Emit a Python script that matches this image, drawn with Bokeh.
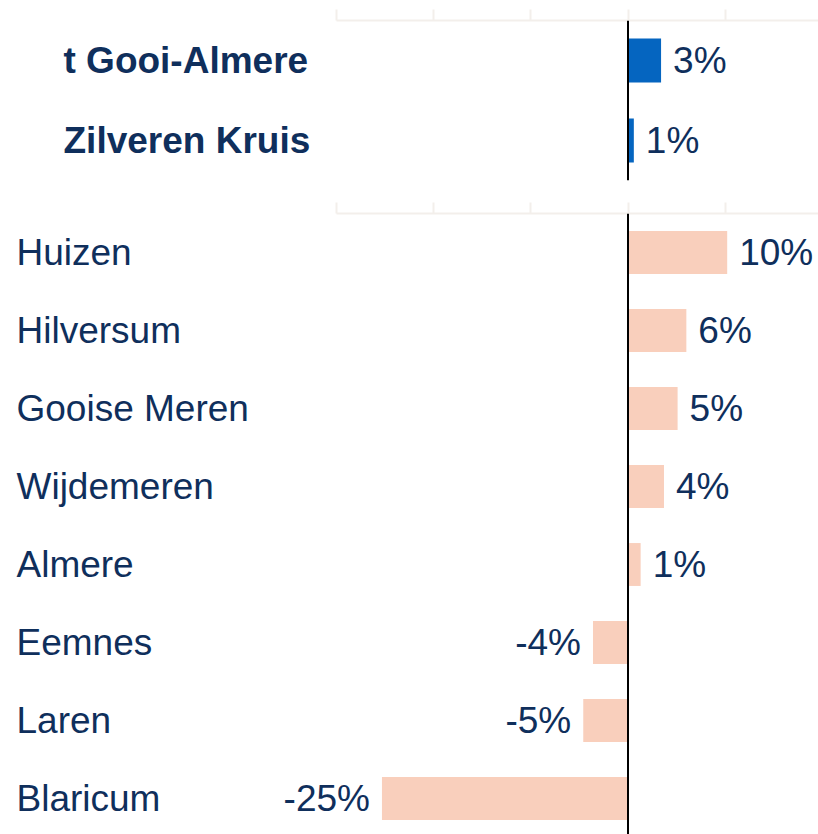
from bokeh.plotting import figure
from bokeh.models import ColumnDataSource, Range1d, Span, FixedTicker
from bokeh.layouts import column
from bokeh.embed import file_html
from bokeh.resources import INLINE
from bokeh.core.properties import value

# ---------------- data ----------------
insurer_names = ["t Gooi-Almere", "Zilveren Kruis"]
insurer_values = [3.4, 0.6]

municipality_names = ["Huizen", "Hilversum", "Gooise Meren", "Wijdemeren",
                      "Almere", "Eemnes", "Laren", "Blaricum"]
municipality_values = [10.2, 6.0, 5.1, 3.7, 1.3, -3.6, -4.6, -25.3]

axis_ticks = [-30, -20, -10, 0, 10, 20]

# ---------------- layout constants ----------------
WIDTH = 818
PX_PER_UNIT = 9.725
ZERO_PX = 627.5                      # zero position from frame left
X_START = -ZERO_PX / PX_PER_UNIT
X_END = X_START + WIDTH / PX_PER_UNIT

NAVY = "#0f2f5c"
FONT = "Liberation Sans"
FONT_SIZE = "37px"
AXIS_COLOR = "#f3efeb"


def make_panel(names, vals, bar_color, row_px, frame_h, height, border_top,
               border_bottom, bold, name_offset):
    top = -0.5
    bottom = top + frame_h / row_px
    p = figure(width=WIDTH, height=height,
               x_range=Range1d(X_START, X_END),
               y_range=Range1d(bottom, top),
               output_backend="svg", toolbar_location=None,
               x_axis_location="above", y_axis_location=None,
               min_border_left=0, min_border_right=0,
               min_border_top=border_top, min_border_bottom=border_bottom,
               outline_line_color=None,
               background_fill_color="white", border_fill_color="white")
    p.grid.visible = False

    ax = p.xaxis[0]
    ax.ticker = FixedTicker(ticks=axis_ticks)
    ax.bounds = (axis_ticks[0], X_END)
    ax.axis_line_color = AXIS_COLOR
    ax.axis_line_width = 2
    ax.major_tick_line_color = AXIS_COLOR
    ax.major_tick_line_width = 2
    ax.major_tick_out = 11
    ax.major_tick_in = 0
    ax.minor_tick_line_color = None
    ax.major_label_text_font_size = "1px"
    ax.major_label_text_color = None
    ax.major_label_standoff = 0

    src = ColumnDataSource(dict(
        y=list(range(len(names))),
        name=names,
        v=vals,
        label=[f"{round(v)}%" for v in vals],
        align=["left" if v >= 0 else "right" for v in vals],
        off=[12 if v >= 0 else -12 for v in vals],
    ))

    p.hbar(y="y", left=0, right="v", height=0.55, source=src,
           fill_color=bar_color, line_color=None)

    p.add_layout(Span(location=0, dimension="height", line_color="black",
                      line_width=2))

    p.text(x=X_START, y="y", text="name", source=src, x_offset=name_offset,
           text_font=value(FONT), text_font_size=FONT_SIZE,
           text_font_style="bold" if bold else "normal",
           text_color=NAVY, text_align="left", text_baseline="middle")

    p.text(x="v", y="y", text="label", source=src, x_offset="off",
           text_align="align", text_font=value(FONT),
           text_font_size=FONT_SIZE, text_color=NAVY,
           text_baseline="middle")
    return p


p_top = make_panel(insurer_names, insurer_values, "#0565c0",
                   row_px=80, frame_h=160, height=201, border_top=20,
                   border_bottom=21, bold=True, name_offset=63)
p_bot = make_panel(municipality_names, municipality_values, "#f9cfbc",
                   row_px=78, frame_h=621, height=633, border_top=12,
                   border_bottom=0, bold=False, name_offset=16)

layout = column(p_top, p_bot, spacing=0)

open("out.html", "w").write(file_html(layout, INLINE))
